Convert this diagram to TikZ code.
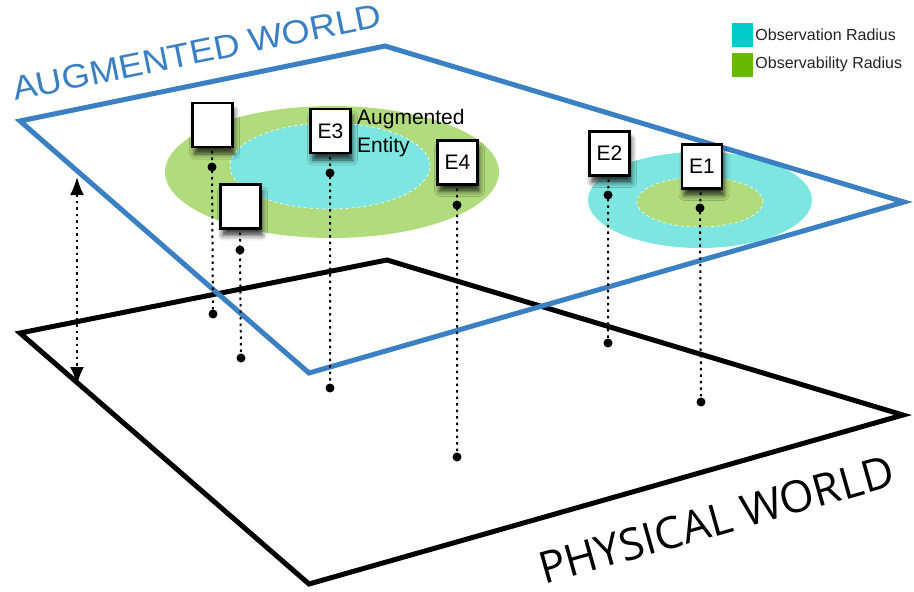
\documentclass[tikz,border=0pt]{standalone}
\usepackage{fontspec}
\setmainfont{Liberation Sans}
\newfontfamily\awfont[FakeStretch=1.08]{Liberation Sans}
\newfontfamily\pwfont{Open Sans}
\usetikzlibrary{arrows.meta,shadows.blur}
\definecolor{awblue}{HTML}{3A80C2}
\definecolor{obscyan}{HTML}{00CCCC}
\definecolor{obsgreen}{HTML}{66BB00}
\definecolor{elcyan}{HTML}{7DE6E1}
\definecolor{elgreen}{HTML}{B1DC7D}
\definecolor{legtext}{HTML}{222222}
\begin{document}
\begin{tikzpicture}[x=1pt,y=-1pt,
  entbox/.style={draw=black, line width=2.4pt, fill=white, minimum width=40pt,
    minimum height=44pt, inner sep=0pt, font=\fontsize{21}{23}\selectfont,
    blur shadow={shadow xshift=2pt, shadow yshift=-7pt, shadow blur radius=5pt, shadow opacity=75}},
  dot/.style={circle, fill=black, inner sep=0pt, minimum size=9pt},
  dotline/.style={line width=2pt, dash pattern=on 2.5pt off 4pt},
  plane/.style={line width=5pt},
  legsq/.style={inner sep=0pt, minimum width=21pt, minimum height=24pt},
  legtxt/.style={anchor=west, inner sep=2pt, text=legtext, font=\fontsize{16}{18}\selectfont},
  ring/.style={draw=white, dashed, line width=0.6pt}
]
\useasboundingbox (0,0) rectangle (914,592);

% radii
\fill[elgreen] (332,172) ellipse [x radius=167pt, y radius=66pt];
\filldraw[fill=elcyan, ring] (330,166) ellipse [x radius=100pt, y radius=43pt];
\fill[elcyan] (700,200) ellipse [x radius=112pt, y radius=48pt];
\filldraw[fill=elgreen, ring] (700,202) ellipse [x radius=63pt, y radius=25pt];

% planes
\draw[plane, black] (20,333) -- (387,260) -- (903,415) -- (309,584) -- cycle;
\draw[plane, awblue] (20,121) -- (385,46) -- (904,202) -- (309,373) -- cycle;

% plane labels
\node[anchor=base west, rotate=11.5, inner sep=0pt, text=awblue, font=\awfont\fontsize{33.5}{35}\selectfont] (aw) at (15,101) {AUGMENTED WORLD};
\node[anchor=base west, rotate=15.8, inner sep=0pt, text=black, font=\pwfont\fontsize{44}{46}\selectfont] (pw) at (544,585) {PHYSICAL WORLD};

% height arrow
\coordinate (ht) at (77,177);
\coordinate (hb) at (77,385);
\draw[dotline, {Latex[length=18pt,width=14pt]}-{Latex[length=18pt,width=14pt]}] (ht) -- (hb);

% upper and lower dots
\node[dot] (u1) at (212,167) {};
\node[dot] (u2) at (240,250) {};
\node[dot] (u3) at (330,173) {};
\node[dot] (u4) at (457,205) {};
\node[dot] (u5) at (608,195) {};
\node[dot] (u6) at (700,208) {};
\node[dot] (l1) at (213,314) {};
\node[dot] (l2) at (241,358) {};
\node[dot] (l3) at (330,388) {};
\node[dot] (l4) at (457,457) {};
\node[dot] (l5) at (608,343) {};
\node[dot] (l6) at (701,402) {};

% entity boxes (positions)
\coordinate (p1) at (212.5,125);
\coordinate (p2) at (240.5,206.5);
\coordinate (p3) at (330.5,131);
\coordinate (p4) at (457.5,162.5);
\coordinate (p5) at (609.5,153.5);
\coordinate (p6) at (702,166.5);

\draw[dotline] (p1) -- (u1.center) -- (l1.center);
\draw[dotline] (p2) -- (u2.center) -- (l2.center);
\draw[dotline] (p3) -- (u3.center) -- (l3.center);
\draw[dotline] (p4) -- (u4.center) -- (l4.center);
\draw[dotline] (p5) -- (u5.center) -- (l5.center);
\draw[dotline] (p6) -- (u6.center) -- (l6.center);

\node[entbox] (b1) at (p1) {};
\node[entbox] (b2) at (p2) {};
\node[entbox] (e3) at (p3) {E3};
\node[entbox] (e4) at (p4) {E4};
\node[entbox] (e2) at (p5) {E2};
\node[entbox] (e1) at (p6) {E1};

\node[anchor=north west, inner sep=0pt, align=left, font=\fontsize{21}{28}\selectfont] (ae) at (357,109.5) {Augmented\\Entity};

% legend
\node[legsq, fill=obscyan] (lc) at (742.5,35) {};
\node[legsq, fill=obsgreen] (lg) at (742.5,64.5) {};
\node[legtxt] (lct) at (lc.east) {Observation Radius};
\node[legtxt] (lgt) at (lg.east) {Observability Radius};
\end{tikzpicture}
\end{document}
